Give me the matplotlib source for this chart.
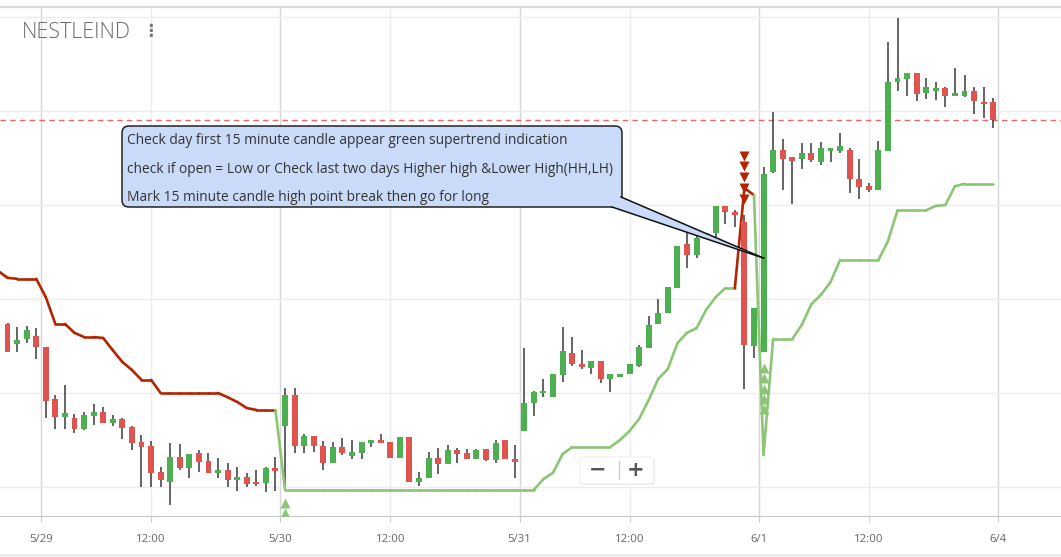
"""
NESTLEIND 15-minute candles with supertrend, recreated with matplotlib.
Saves: out.png
"""

import matplotlib
matplotlib.use("Agg")
import matplotlib.pyplot as plt
import numpy as np
from matplotlib.collections import LineCollection
from matplotlib.lines import Line2D
from matplotlib.patches import FancyBboxPatch, Polygon
from matplotlib.transforms import IdentityTransform

# ---------------------------------------------------------------------------
# Data
# ---------------------------------------------------------------------------
symbol = "NESTLEIND"
day_labels = ["5/29", "5/30", "5/31", "6/1", "6/4"]
candles_per_day = 25
prev_day_candles = 4          # tail of 5/28 visible at the left edge
noon_index = 11               # 12:00 candle within a 9:15 session

opens = [
    9734.7, 9730.4, 9731.5, 9732.1,
    # 5/29
    9729.8, 9718.7, 9714.9, 9714.7, 9712.3, 9715.1, 9716.0, 9713.6, 9714.5, 9712.8,
    9709.6, 9708.7, 9703.2, 9701.1, 9706.4, 9704.0, 9707.2, 9705.5, 9703.0, 9703.6,
    9701.5, 9702.1, 9700.9, 9700.9, 9704.0,
    # 5/30
    9713.0, 9719.6, 9708.7, 9710.9, 9708.7, 9705.1, 9708.5, 9706.6, 9707.2, 9709.4,
    9710.0, 9709.6, 9706.2, 9710.6, 9701.1, 9701.9, 9706.2, 9704.9, 9707.9, 9707.2,
    9706.0, 9708.1, 9705.7, 9710.0, 9706.0,
    # 5/31
    9711.9, 9717.9, 9720.0, 9719.1, 9723.8, 9728.5, 9726.2, 9725.3, 9726.8, 9723.0,
    9723.4, 9724.0, 9725.7, 9729.6, 9734.7, 9737.0, 9742.3, 9751.7, 9749.4, 9753.2,
    9754.0, 9759.8, 9758.5, 9756.4, 9730.0,
    # 6/1
    9728.7, 9767.0, 9771.7, 9770.2, 9769.8, 9771.1, 9769.1, 9771.5, 9771.5, 9771.7,
    9765.5, 9764.0, 9763.2, 9771.5, 9786.2, 9786.8, 9788.1, 9783.8, 9784.3, 9784.9,
    9783.2, 9783.2, 9784.3, 9781.9, 9781.9,
]
highs = [
    9735.0, 9734.0, 9734.3, 9733.8,
    9729.8, 9719.6, 9721.7, 9715.5, 9716.0, 9717.7, 9717.0, 9715.3, 9714.7, 9713.0,
    9711.1, 9709.8, 9704.3, 9709.4, 9709.1, 9707.0, 9707.9, 9707.2, 9706.2, 9705.1,
    9704.3, 9703.0, 9703.6, 9704.3, 9706.4,
    9721.1, 9721.1, 9711.3, 9710.9, 9709.8, 9709.6, 9710.4, 9710.0, 9709.6, 9710.0,
    9711.3, 9709.6, 9710.6, 9710.6, 9703.2, 9707.4, 9708.3, 9708.9, 9708.3, 9708.1,
    9708.1, 9708.1, 9710.0, 9710.0, 9708.9,
    9729.6, 9720.4, 9723.0, 9724.0, 9734.0, 9731.9, 9729.1, 9726.8, 9726.8, 9724.0,
    9724.0, 9726.2, 9730.2, 9736.4, 9740.0, 9742.6, 9751.3, 9754.0, 9754.0, 9754.0,
    9759.8, 9759.8, 9758.9, 9757.9, 9738.1,
    9768.1, 9779.8, 9774.0, 9770.2, 9773.2, 9773.2, 9773.4, 9772.1, 9775.3, 9772.1,
    9769.8, 9764.7, 9773.6, 9794.7, 9799.8, 9788.1, 9788.1, 9787.0, 9786.2, 9785.1,
    9789.1, 9787.7, 9785.1, 9785.1, 9782.8,
]
lows = [
    9728.7, 9728.7, 9730.6, 9727.2,
    9714.7, 9712.3, 9712.3, 9711.5, 9712.1, 9713.2, 9713.6, 9713.0, 9710.2, 9707.9,
    9700.0, 9700.0, 9700.0, 9696.2, 9703.6, 9701.9, 9703.2, 9703.0, 9701.9, 9700.0,
    9699.1, 9700.0, 9700.2, 9698.9, 9699.1,
    9700.0, 9707.2, 9707.2, 9707.4, 9703.6, 9705.1, 9706.8, 9706.0, 9706.0, 9708.5,
    9709.4, 9706.2, 9706.2, 9701.1, 9700.2, 9701.9, 9702.8, 9704.9, 9705.1, 9706.0,
    9706.0, 9705.5, 9705.1, 9706.0, 9701.9,
    9711.9, 9715.1, 9719.1, 9719.1, 9722.3, 9725.7, 9725.1, 9724.0, 9722.1, 9720.2,
    9723.4, 9724.0, 9725.5, 9729.6, 9734.7, 9737.0, 9742.3, 9746.6, 9748.7, 9753.2,
    9753.2, 9756.0, 9755.3, 9720.9, 9727.4,
    9728.7, 9766.8, 9763.2, 9760.2, 9767.7, 9769.1, 9768.5, 9769.1, 9771.1, 9762.6,
    9761.3, 9762.8, 9763.2, 9771.5, 9784.3, 9783.2, 9782.1, 9782.6, 9782.3, 9780.9,
    9783.2, 9783.0, 9779.4, 9778.5, 9776.4,
]
closes = [
    9728.7, 9731.3, 9733.4, 9729.8,
    9718.3, 9714.9, 9715.7, 9712.3, 9715.3, 9716.0, 9713.6, 9714.5, 9712.6, 9709.4,
    9708.5, 9703.0, 9701.5, 9706.4, 9704.0, 9707.0, 9705.3, 9703.0, 9703.6, 9701.5,
    9702.1, 9700.6, 9700.6, 9704.0, 9703.4,
    9719.6, 9708.7, 9710.9, 9708.7, 9705.1, 9708.5, 9707.2, 9707.4, 9709.6, 9710.0,
    9709.4, 9706.2, 9710.6, 9701.1, 9701.9, 9706.2, 9704.9, 9707.9, 9707.0, 9706.0,
    9707.9, 9705.7, 9709.4, 9706.0, 9705.3,
    9717.9, 9720.2, 9720.4, 9724.0, 9728.9, 9726.2, 9725.5, 9726.8, 9723.0, 9724.0,
    9724.0, 9726.2, 9729.8, 9734.5, 9737.0, 9742.6, 9751.3, 9749.4, 9753.0, 9754.0,
    9759.8, 9758.5, 9757.9, 9730.2, 9738.1,
    9766.6, 9771.7, 9769.8, 9769.4, 9771.1, 9769.6, 9772.1, 9772.1, 9772.6, 9765.5,
    9763.8, 9763.2, 9771.7, 9786.2, 9787.0, 9788.1, 9783.6, 9785.1, 9784.9, 9783.2,
    9783.8, 9784.3, 9782.1, 9781.5, 9778.1,
]
supertrend = [
    9744.5, 9744.3, 9744.3, 9744.3,
    9740.4, 9734.7, 9734.7, 9732.8, 9731.9, 9731.9, 9731.7, 9729.1, 9726.6, 9724.9,
    9722.8, 9722.8, 9720.0, 9720.0, 9720.0, 9720.0, 9720.0, 9720.0, 9720.0, 9719.1,
    9718.1, 9716.8, 9716.4, 9716.4, 9716.4,
] + [9699.4] * 25 + [
    9699.4, 9699.4, 9701.7, 9703.0, 9707.0, 9708.5, 9708.5, 9708.5, 9708.5, 9708.5,
    9710.0, 9711.9, 9714.5, 9718.5, 9723.0, 9725.1, 9730.6, 9732.8, 9733.8, 9737.7,
    9740.4, 9742.3, 9742.3, 9763.6, 9762.1,
    9706.8, 9731.5, 9731.5, 9731.5, 9734.5, 9738.9, 9740.9, 9743.6, 9748.3, 9748.3,
    9748.3, 9748.3, 9748.3, 9752.3, 9758.9, 9758.9, 9758.9, 9758.9, 9759.8, 9760.0,
    9764.0, 9764.5, 9764.5, 9764.5, 9764.5,
]
# supertrend of the 5/28 candle just left of the visible range
supertrend_before = 9746.0
# u = uptrend (green supertrend), d = downtrend (red supertrend)
trend = "d" * 29 + "u" * 48 + "d" * 2 + "u" * 25

alert_level = 9778.1
callout_lines = [
    "Check day first 15 minute candle appear green supertrend indication",
    "check if open = Low or Check last two days Higher high &Lower High(HH,LH)",
    "Mark 15 minute candle high point break then go for long",
]
callout_candle = 79          # first candle of 6/1
callout_price = 9748.7

# ---------------------------------------------------------------------------
# Styling
# ---------------------------------------------------------------------------
W, H = 1061, 557
UP = "#4caf50"
DOWN = "#e0534e"
ST_UP = "#8cc576"
ST_DOWN = "#b32400"
FONT = ["Open Sans", "DejaVu Sans"]

o = np.array(opens)
h = np.array(highs)
l = np.array(lows)
c = np.array(closes)
st = np.array([supertrend_before] + supertrend)
n = len(o)
x = np.arange(n) - prev_day_candles + 0.5
x_st = np.arange(-1, n) - prev_day_candles + 0.5

fig = plt.figure(figsize=(W / 100, H / 100), dpi=100)
ax = fig.add_axes([0, 41 / H, 1, 509 / H])
ax.set_xlim(-41 / 9.57, 1020 / 9.57)
ax.set_ylim(9700 - 29 / 4.7, 9700 + 480 / 4.7)

# grid
ax.set_yticks(np.arange(9700, 9801, 20))
ax.tick_params(axis="y", left=False, labelleft=False)
ax.grid(axis="y", color="#ededed", lw=1, zorder=0)

day_pos = [i * candles_per_day for i in range(len(day_labels))]
noon_pos = [d + noon_index + 0.5 for d in day_pos[:-1]]
for d in day_pos:
    ax.axvline(d, color="#d6d6d6", lw=1, zorder=0)
for d in noon_pos:
    ax.axvline(d, color="#ececec", lw=1, zorder=0)

ticks = sorted(day_pos + noon_pos)
labels = [day_labels[day_pos.index(t)] if t in day_pos else "12:00" for t in ticks]
ax.set_xticks(ticks)
ax.set_xticklabels(labels, family=FONT, fontsize=8.2, color="#666666")
ax.tick_params(axis="x", length=4, color="#cccccc", pad=9)

for side in ("left", "right"):
    ax.spines[side].set_visible(False)
ax.spines["top"].set_color("#dcdcdc")
ax.spines["top"].set_linewidth(1.6)
ax.spines["bottom"].set_color("#c8c8c8")

# alert level
ax.axhline(alert_level, color="#ef6666", lw=1, ls=(0, (4, 3)), zorder=1)

# supertrend, each segment coloured by the trend it ends in
pts = np.column_stack([x_st, st])
segs = np.stack([pts[:-1], pts[1:]], axis=1)
seg_cols = [ST_UP if t == "u" else ST_DOWN for t in trend]
ax.add_collection(LineCollection(segs, colors=seg_cols, lw=1.9, zorder=2.5,
                                 capstyle="round", joinstyle="round"))

# candles
cols = [UP if cc >= oo else DOWN for oo, cc in zip(o, c)]
ax.vlines(x, l, h, color="#3a3a3a", lw=1.1, zorder=2)
ax.bar(x, np.maximum(np.abs(c - o), 0.4), bottom=np.minimum(o, c),
       width=0.62, color=cols, zorder=3)

# signal triangles where the trend flips
for i in range(1, n):
    if trend[i] == trend[i - 1]:
        continue
    k = np.arange(5)
    if trend[i] == "u":
        ax.plot(np.full(5, x[i]), l[i] - 3.4 - 2.2 * k, "^", color=ST_UP,
                ms=6.5, mec="none", zorder=4)
    else:
        ax.plot(np.full(5, x[i]), h[i] + 3.4 + 2.3 * k, "v", color=ST_DOWN,
                ms=6.5, mec="none", zorder=4)

# ---------------------------------------------------------------------------
# Overlays in pixel coordinates (top-left origin)
# ---------------------------------------------------------------------------
ident = IdentityTransform()


def px(xp, yp):
    return (xp, H - yp)


fig.text(22 / W, 1 - 32 / H, symbol, fontsize=15.5, color="#6b6b6b",
         family=FONT, weight="light", ha="left", va="center")
fig.text(150 / W, 1 - 31 / H, "\u22ee", fontsize=12, color="#777777",
         family="DejaVu Sans", weight="bold", ha="center", va="center")

# callout box
box_fc = "#c9dbf8"
fig.add_artist(FancyBboxPatch(px(122, 207), 500, 81,
                              boxstyle="round,pad=0,rounding_size=7",
                              fc=box_fc, ec="#222222", lw=1.1,
                              transform=ident, zorder=5))
tip = ax.transData.transform((x[callout_candle], callout_price))
base_a = px(612, 207)
base_b = px(621, 197)
fig.add_artist(Polygon([base_a, base_b, tip], closed=True, fc=box_fc,
                       ec="none", transform=ident, zorder=6))
for b in (base_a, base_b):
    fig.add_artist(Line2D([b[0], tip[0]], [b[1], tip[1]], color="#111111",
                          lw=1.1, transform=ident, zorder=7))
for j, line in enumerate(callout_lines):
    fig.text(127 / W, 1 - (141 + 28.3 * j) / H, line, fontsize=9.9,
             color="#333333", family=FONT, ha="left", va="center", zorder=8)

# zoom widget
fig.add_artist(FancyBboxPatch(px(581, 485), 74, 27,
                              boxstyle="round,pad=0,rounding_size=3",
                              fc="#e9e9e9", ec="none", transform=ident, zorder=5))
fig.add_artist(FancyBboxPatch(px(580, 484), 74, 27,
                              boxstyle="round,pad=0,rounding_size=3",
                              fc="white", ec="#eeeeee", lw=0.8,
                              transform=ident, zorder=6))
fig.add_artist(Line2D([619, 619], [H - 479, H - 461], color="#cccccc", lw=1,
                      transform=ident, zorder=7))
fig.text(598 / W, 1 - 470 / H, "\u2212", fontsize=15, weight="bold",
         color="#555555", family="DejaVu Sans", ha="center", va="center", zorder=8)
fig.text(636 / W, 1 - 470 / H, "+", fontsize=15, weight="bold",
         color="#555555", family="DejaVu Sans", ha="center", va="center", zorder=8)

# container edge at the very bottom
fig.add_artist(Line2D([0, W], [2, 2], color="#eeeeee", lw=2, transform=ident))

fig.savefig("out.png", dpi=100)
plt.close(fig)
